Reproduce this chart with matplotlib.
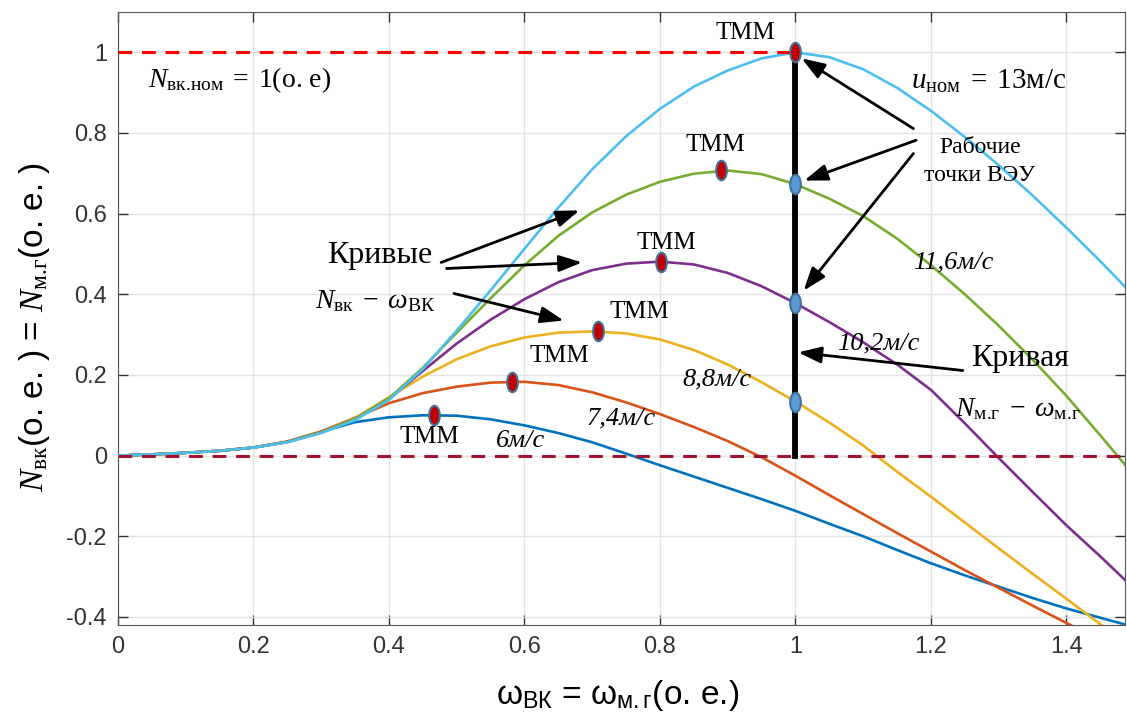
import numpy as np
import matplotlib
matplotlib.use("Agg")
import matplotlib.pyplot as plt
from matplotlib.path import Path

plt.rcParams['mathtext.fontset'] = 'custom'
plt.rcParams['mathtext.rm'] = 'Liberation Serif'
plt.rcParams['mathtext.it'] = 'Liberation Serif:italic'
plt.rcParams['mathtext.sf'] = 'Liberation Sans'
plt.rcParams['font.family'] = ['Liberation Sans', 'DejaVu Sans']

# частота вращения (о.е.)
w = [0, 0.05, 0.1, 0.15, 0.2, 0.25, 0.3, 0.35, 0.4, 0.45, 0.5, 0.55, 0.6, 0.65, 0.7, 0.75,
     0.8, 0.85, 0.9, 0.95, 1.0, 1.05, 1.1, 1.15, 1.2, 1.25, 1.3, 1.35, 1.4, 1.45, 1.5]

# мощность ВК при разных скоростях ветра (о.е.)
n_6 = [0, .003, .007, .012, .02, .034, .059, .083, .095, .1, .099, .09, .075, .056, .033, .005,
       -.024, -.052, -.08, -.108, -.137, -.169, -.2, -.234, -.267, -.297, -.325, -.353, -.379, -.402, -.425]
n_74 = [0, .003, .007, .012, .02, .035, .06, .094, .13, .155, .171, .181, .183, .175, .157, .132,
        .103, .071, .036, -.004, -.05, -.098, -.145, -.192, -.238, -.284, -.328, -.372, -.415, -.458, -.5]
n_88 = [0, .003, .007, .012, .02, .034, .058, .093, .145, .196, .239, .271, .293, .305, .308, .303,
        .288, .262, .226, .182, .134, .082, .025, -.04, -.102, -.166, -.23, -.293, -.355, -.418, -.48]
n_102 = [0, .003, .007, .012, .02, .034, .058, .091, .141, .21, .278, .337, .388, .43, .46, .476,
         .481, .474, .453, .42, .378, .331, .281, .226, .163, .08, -.006, -.09, -.173, -.25, -.33]
n_116 = [0, .003, .007, .012, .02, .034, .058, .091, .142, .218, .305, .39, .472, .545, .603, .647,
         .679, .699, .707, .698, .673, .637, .594, .538, .472, .40, .322, .238, .148, .05, -.05]
n_13 = [0, .003, .007, .012, .02, .033, .056, .088, .138, .215, .31, .41, .513, .615, .71, .792,
        .86, .915, .955, .985, 1.0, .988, .958, .912, .855, .79, .72, .645, .565, .482, .395]

# точки максимальной мощности (ТММ) и рабочие точки ВЭУ
tmm_x = [0.467, 0.582, 0.708, 0.802, 0.89, 1.0]
tmm_y = [0.1, 0.182, 0.308, 0.481, 0.707, 1.0]
work_x = [1.0, 1.0, 1.0]
work_y = [0.673, 0.378, 0.134]

speed_labels = ['6м/с', '7,4м/с', '8,8м/с', '10,2м/с', '11,6м/с']

colors = ['#0072BD', '#D95319', '#EDB120', '#7E2F8E', '#77AC30', '#4DBEEE']

fig = plt.figure(figsize=(11.27, 7.27), dpi=100)
ax = fig.add_axes([0.1047, 0.1403, 0.8933, 0.8432])

for n, c in zip([n_6, n_74, n_88, n_102, n_116, n_13], colors):
    ax.plot(w, n, color=c, lw=1.9, zorder=3, solid_joinstyle='round')

ax.plot([0, 1.0], [1, 1], color='#FF0000', lw=2.2, dashes=(4.5, 3.2), zorder=4)
ax.axhline(0, color='#A2142F', lw=2.2, dashes=(4.5, 3.2), zorder=4)
ax.plot([1.0, 1.0], [0, 1], color='black', lw=4.2, zorder=5)

# эллиптический маркер
circ = Path.unit_circle()
ell = Path(circ.vertices * np.array([0.55, 1.0]), circ.codes)
ax.plot(work_x, work_y, ls='none', marker=ell, ms=14, mfc='#5B9BD5', mec='#41719C', mew=1.5, zorder=6)
ax.plot(tmm_x, tmm_y, ls='none', marker=ell, ms=14, mfc='#C00000', mec='#41719C', mew=1.5, zorder=6)

ax.set_xlim(0, 1.486)
ax.set_ylim(-0.42, 1.1)
ax.set_xticks([0, 0.2, 0.4, 0.6, 0.8, 1, 1.2, 1.4])
ax.set_xticklabels(['0', '0.2', '0.4', '0.6', '0.8', '1', '1.2', '1.4'])
ax.set_yticks([-0.4, -0.2, 0, 0.2, 0.4, 0.6, 0.8, 1])
ax.set_yticklabels(['-0.4', '-0.2', '0', '0.2', '0.4', '0.6', '0.8', '1'])
ax.tick_params(direction='in', length=7, width=1, top=True, right=True,
               labelsize=17, colors='#333333', pad=8)
ax.grid(True, color='#e3e3e3', lw=1)
for s in ax.spines.values():
    s.set_color('#555555')

serif = 'Liberation Serif'
tmm_pos = [(0.46, 0.045), (0.651, 0.248), (0.769, 0.355), (0.81, 0.526), (0.882, 0.77), (0.926, 1.047)]
for px, py in tmm_pos:
    ax.text(px, py, 'ТММ', family=serif, fontsize=18, ha='center', va='center', zorder=7)

spd_pos = [(0.594, 0.037), (0.742, 0.092), (0.884, 0.19), (1.122, 0.278), (1.233, 0.479)]
for lab, (px, py) in zip(speed_labels, spd_pos):
    ax.text(px, py, lab, family=serif, style='italic', fontsize=19, ha='center', va='center', zorder=7)

ax.text(0.044, 0.93, r'$N_{\text{вк.ном}}\;=\;1(\text{о. е})$', fontsize=20, ha='left', va='center')
ax.text(1.17, 0.93, r'$u_{\text{ном}}\;=\;13\text{м/с}$', fontsize=21, ha='left', va='center')

ax.text(0.386, 0.496, 'Кривые', family=serif, fontsize=23, ha='center', va='center')
ax.text(0.379, 0.383, r'$N_{\text{вк}}\;-\;\omega_{\text{ВК}}$', fontsize=20, ha='center', va='center')
ax.text(1.272, 0.73, 'Рабочие\nточки ВЭУ', family=serif, fontsize=17, ha='center', va='center',
        linespacing=1.45)
ax.text(1.331, 0.241, 'Кривая', family=serif, fontsize=23, ha='center', va='center')
ax.text(1.328, 0.115, r'$N_{\text{м.г}}\;-\;\omega_{\text{м.г}}$', fontsize=20, ha='center', va='center')

arrows = [((0.477, 0.479), (0.681, 0.608)),
          ((0.485, 0.464), (0.685, 0.479)),
          ((0.496, 0.402), (0.658, 0.335)),
          ((1.174, 0.811), (1.009, 0.985)),
          ((1.178, 0.782), (1.013, 0.682)),
          ((1.174, 0.749), (1.012, 0.409)),
          ((1.247, 0.211), (1.004, 0.256))]
for (x0, y0), (x1, y1) in arrows:
    ax.annotate('', xy=(x1, y1), xytext=(x0, y0),
                arrowprops=dict(arrowstyle='-|>,head_length=1.4,head_width=0.5', color='black',
                                lw=2, shrinkA=0, shrinkB=0), zorder=8)

fig.text(0.031, 0.55, r'$N_{\text{вк}}$(о. е. ) = $N_{\text{м.г}}$(о. е. )', rotation=90,
         fontsize=24, ha='center', va='center')
fig.text(0.548, 0.044, r'ω$_{\mathsf{ВК}}$ = ω$_{\mathsf{м.г}}$(о. е.)', fontsize=24,
         ha='center', va='center')

fig.savefig('out.png', dpi=100)
